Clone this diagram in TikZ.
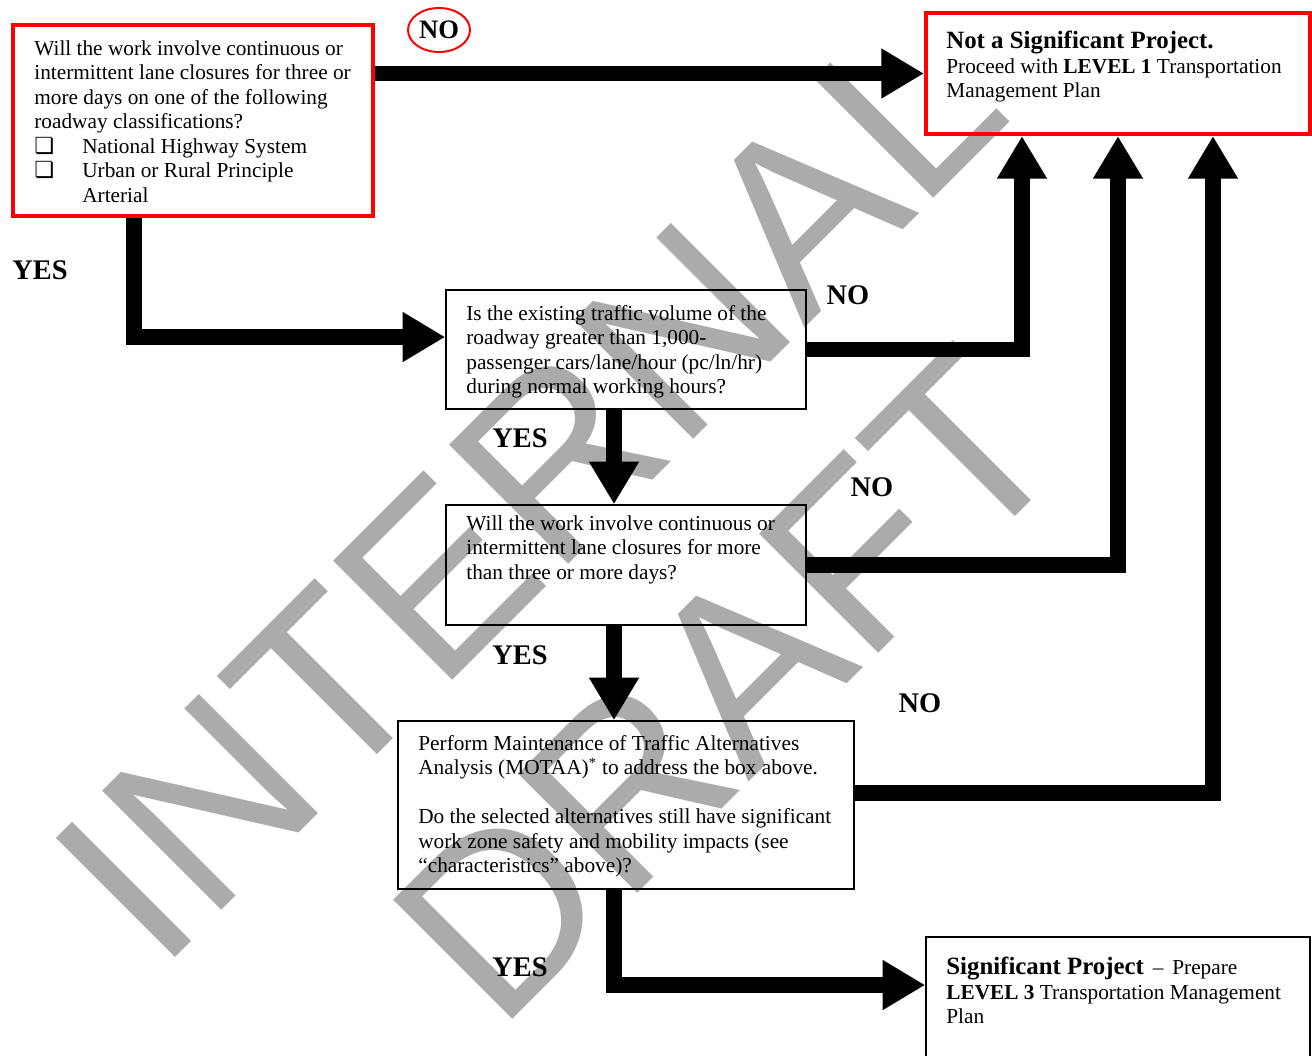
\documentclass[tikz,border=0pt]{standalone}
\usepackage{fontspec}
\setmainfont{Liberation Serif}
\newfontfamily\wmfont{Liberation Sans}
\newfontfamily\symfont{DejaVu Sans}
\usetikzlibrary{arrows.meta,shapes.geometric}
\definecolor{pRed}{RGB}{255,0,0}
\definecolor{pGray}{RGB}{171,171,171}
\newcommand{\pxu}{0.5634pt}
\newcommand{\cbx}{\makebox[27pt][l]{{\symfont\fontsize{12.5}{12}\selectfont ❏}}}
\tikzset{
    qbox/.style={rectangle, draw, line width=0.85pt, inner sep=0pt},
    rbox/.style={rectangle, draw=pRed, line width=2.3pt, inner sep=0pt},
    qtxt/.style={anchor=north west, align=left, inner sep=0pt, font=\fontsize{12}{13.8}\selectfont},
    ans/.style={font=\bfseries\fontsize{16}{18}\selectfont, inner sep=0pt},
    flow/.style={line width=8.5pt, -{Triangle[length=24pt,width=26.5pt]}},
    wmark/.style={text=pGray, rotate=45, align=center, inner sep=0pt, font=\wmfont\fontsize{138}{159}\selectfont}
}

\begin{document}
\begin{tikzpicture}[x=\pxu,y=-\pxu]
\useasboundingbox (0,0) rectangle (1312,1055);
\node[wmark] (wm) at (628,585) {INTERNAL\\DRAFT};

\node[rbox, minimum width=360*\pxu, minimum height=191*\pxu] (q1)  at (193,120.5) {};
\node[rbox, minimum width=384*\pxu, minimum height=121*\pxu] (nsp) at (1118,73.5) {};
\node[qbox, minimum width=360*\pxu, minimum height=119*\pxu] (q2)  at (626,349.5) {};
\node[qbox, minimum width=360*\pxu, minimum height=120*\pxu] (q3)  at (626,565) {};
\node[qbox, minimum width=456*\pxu, minimum height=168*\pxu] (q4)  at (626,805) {};
\node[qbox, minimum width=384*\pxu, minimum height=143*\pxu] (sp)  at (1118,1008.5) {};

\node[qtxt] (t1) at (34,40) {Will the work involve continuous or\\intermittent lane closures for three or\\more days on one of the following\\roadway classifications?\\\cbx National Highway System\\\cbx Urban or Rural Principle\\\hspace*{27pt}Arterial};
\node[qtxt] (t0) at (946,31) {{\bfseries\fontsize{14}{16}\selectfont Not a Significant Project.}\\Proceed with \textbf{LEVEL 1} Transportation\\Management Plan};
\node[qtxt] (t2) at (466,305) {Is the existing traffic volume of the\\roadway greater than 1,000-\\passenger cars/lane/hour (pc/ln/hr)\\during normal working hours?};
\node[qtxt] (t3) at (466,515) {Will the work involve continuous or\\intermittent lane closures for more\\than three or more days?};
\node[qtxt] (t4) at (418,735) {Perform Maintenance of Traffic Alternatives\\Analysis (MOTAA)\textsuperscript{*} to address the box above.\\[13.8pt]Do the selected alternatives still have significant\\work zone safety and mobility impacts (see\\``characteristics'' above)?};
\node[qtxt] (t5) at (946,957) {{\bfseries\fontsize{14}{16}\selectfont Significant Project} \,--\, Prepare\\\textbf{LEVEL 3} Transportation Management\\Plan};

\coordinate (trunk) at (614,0);
\coordinate (c2) at (1022,0);
\coordinate (c3) at (1118,0);
\coordinate (c4) at (1213,793);
\coordinate (y1) at (134,337);
\coordinate (y4) at (614,985);

\draw[flow] (q1.east |- nsp.west) -- (nsp.west);
\draw[flow] (y1 |- q1.south) -- (y1) -- (y1 -| q2.west);
\draw[flow] (q2.east) -| (c2 |- nsp.south);
\draw[flow] (trunk |- q2.south) -- (trunk |- q3.north);
\draw[flow] (q3.east) -| (c3 |- nsp.south);
\draw[flow] (trunk |- q3.south) -- (trunk |- q4.north);
\draw[flow] (q4.east |- c4) -| (c4 |- nsp.south);
\draw[flow] (trunk |- q4.south) -- (y4) -- (sp.west |- y4);

\node[ans, ellipse, draw=pRed, line width=1.1pt, minimum width=62*\pxu, minimum height=44*\pxu, font=\bfseries\fontsize{15}{18}\selectfont] (no0) at (439,30) {NO};
\node[ans] (yes1) at (40,270) {YES};
\node[ans] (no1)  at (848,295) {NO};
\node[ans] (yes2) at (520,438) {YES};
\node[ans] (no2)  at (872,487) {NO};
\node[ans] (yes3) at (520,655) {YES};
\node[ans] (no3)  at (920,703) {NO};
\node[ans] (yes4) at (520,967) {YES};
\end{tikzpicture}
\end{document}
